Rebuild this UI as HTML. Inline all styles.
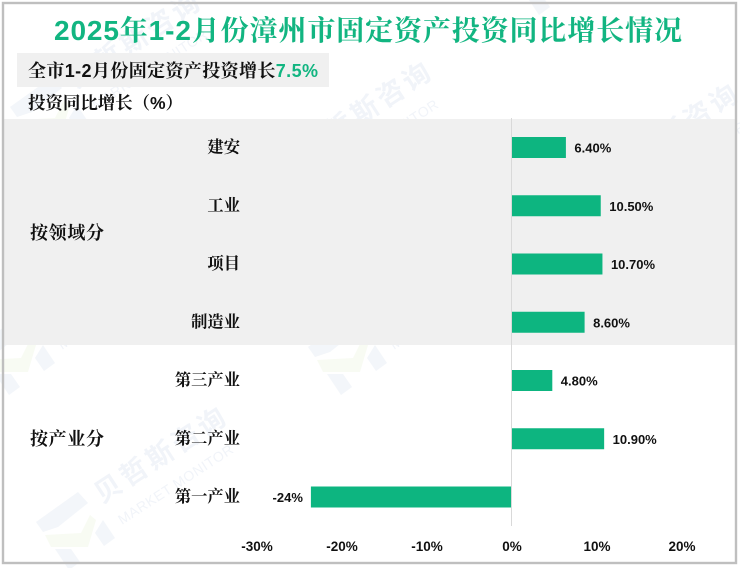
<!DOCTYPE html>
<html lang="zh">
<head>
<meta charset="utf-8">
<title>2025年1-2月份漳州市固定资产投资同比增长情况</title>
<style>
html,body{margin:0;padding:0;background:#fff;}
body{width:740px;height:568px;overflow:hidden;}
svg{display:block;}
text{font-family:"Liberation Sans","Noto Serif CJK SC",serif;}
</style>
</head>
<body>
<svg id="chart" width="740" height="568" viewBox="0 0 740 568" xmlns="http://www.w3.org/2000/svg">
  <rect x="0" y="0" width="740" height="568" fill="#fff"/>
  <g id="wm"></g>
  <rect x="4" y="119" width="731" height="226" fill="#f0f0f0"/>
  <text x="54" y="40" textLength="628" lengthAdjust="spacing" font-size="28" font-weight="bold" fill="#12b581">2025年1-2月份漳州市固定资产投资同比增长情况</text>
  <rect x="17" y="53" width="312" height="34" fill="#f0f0f0"/>
  <text x="28" y="77" textLength="290" lengthAdjust="spacing" font-size="18" font-weight="bold" fill="#111">全市1-2月份固定资产投资增长<tspan fill="#12b581">7.5%</tspan></text>
  <text x="28" y="109" textLength="155" lengthAdjust="spacing" font-size="17.5" font-weight="bold" fill="#111">投资同比增长（%）</text>
  <text x="30" y="239" textLength="74" lengthAdjust="spacing" font-size="18" font-weight="bold" fill="#111">按领域分</text>
  <text x="30" y="445" textLength="74" lengthAdjust="spacing" font-size="18" font-weight="bold" fill="#111">按产业分</text>
  <g id="plot"></g>
  <rect x="3" y="3" width="733" height="560" fill="none" stroke="#bfbfbf" stroke-width="2.4"/>
</svg>
<script>
const categories = ['建安','工业','项目','制造业','第三产业','第二产业','第一产业'];
const values = [6.4, 10.5, 10.7, 8.6, 4.8, 10.9, -23.6];
const valueLabels = ['6.40%','10.50%','10.70%','8.60%','4.80%','10.90%','-24%'];
const tickValues = [-30,-20,-10,0,10,20];
const tickLabels = ['-30%','-20%','-10%','0%','10%','20%'];

const NS = 'http://www.w3.org/2000/svg';
const plot = document.getElementById('plot');
const wm = document.getElementById('wm');
function xScale(v){ return 511.5 + v * 8.5; }
function yScale(i){ return 147.5 + i * 58.25; }
function make(tag, attrs, parent){
  const el = document.createElementNS(NS, tag);
  Object.keys(attrs).forEach(function(k){ el.setAttribute(k, attrs[k]); });
  parent.appendChild(el);
  return el;
}

// Watermark tiles
[[0,0],[272,-175],[-60,-175],[-26,-415],[205,-345],[512,-323],[470,-555]].forEach(function(p){
  const g = make('g', {transform:'translate('+p[0]+','+p[1]+')'}, wm);
  
  
  make('polygon', {points:'36,522 78,492 88,503 58,527 43,532', fill:'#f3f6fa'}, g);
  make('polygon', {points:'45,535 81,533 90,515 96,520 88,547 51,547', fill:'#f8fbf3'}, g);
  make('polygon', {points:'103,520 115,538 104,546 95,533', fill:'#f3f6fa'}, g);
  make('polygon', {points:'55,549 71,549 80,562 69,570', fill:'#f3f6fa'}, g);
  const t = make('text', {x:102, y:504, transform:'rotate(-33 102 504)', textLength:150, lengthAdjust:'spacing', fill:'#f1f4f9', style:'font-family:"Noto Sans CJK SC",sans-serif;font-size:27px;font-weight:bold'}, g);
  t.textContent = '贝哲斯咨询';
  const t2 = make('text', {x:122, y:525, transform:'rotate(-33 122 525)', textLength:134, lengthAdjust:'spacing', fill:'#f1f4f9', style:'font-family:"Liberation Sans",sans-serif;font-size:14px'}, g);
  t2.textContent = 'MARKET MONITOR';
});

// Zero line
const zero = make('line', {x1:xScale(0), x2:xScale(0), y1:118, y2:526, stroke:'#d9d9d9', 'stroke-width':1}, plot);



// Bars and labels
categories.forEach(function(c, i){
  const y = yScale(i), v = values[i];
  const x0 = xScale(Math.min(v, 0)), x1 = xScale(Math.max(v, 0));
  const bar = make('rect', {x: v >= 0 ? x0 + 0.5 : x0, y: y - 10.5, width: Math.abs(x1 - x0) - 0.5, height: 21, fill:'#0db580'}, plot);
  
  

  const cat = make('text', {x:240, y:y + 5, 'text-anchor':'end', 'font-size':16.3, 'font-weight':'bold', fill:'#111'}, plot);
  
  
  cat.textContent = c;

  const lab = make('text', {x: v >= 0 ? x1 + 8.5 : x0 - 8, y:y + 5, 'text-anchor': v >= 0 ? 'start' : 'end', fill:'#111', style:'font-family:"Liberation Sans",sans-serif;font-weight:bold;font-size:13px'}, plot);
  
  
  lab.textContent = valueLabels[i];
});

// Ticks
tickValues.forEach(function(t, i){
  const tick = make('text', {x:xScale(t) + 0.5, y:551, 'text-anchor':'middle', fill:'#111', style:'font-family:"Liberation Sans",sans-serif;font-weight:bold;font-size:13.5px'}, plot);
  
  
  tick.textContent = tickLabels[i];
});
</script>
</body>
</html>
